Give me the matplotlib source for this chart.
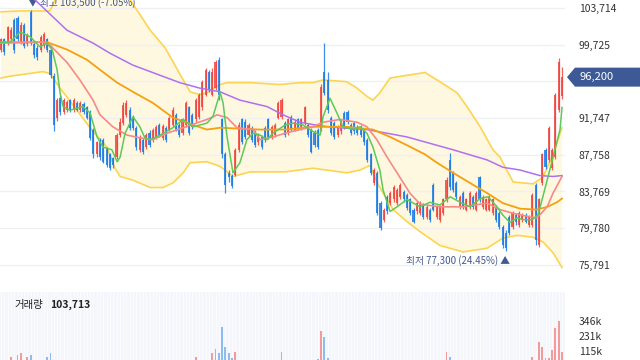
import numpy as np
import matplotlib
matplotlib.use("Agg")
import matplotlib.pyplot as plt
import matplotlib.transforms as mtransforms
from matplotlib.patches import Polygon

plt.rcParams['font.family'] = ['Noto Sans CJK KR', 'DejaVu Sans']

# 일봉 (단위: 천원)
opens = [99.2, 100.3, 99.9, 100.3, 102.4, 102.6, 100.0, 101.9, 99.8, 103.3,
         99.8, 99.4, 99.2, 99.6, 100.3, 99.2, 96.3, 91.8, 93.9, 92.4,
         92.6, 93.7, 92.6, 93.4, 92.6, 93.3, 92.9, 92.4, 90.5, 87.8,
         89.4, 89.4, 88.5, 87.8, 87.4, 87.5, 89.9, 91.2, 92.1, 92.6,
         91.8, 90.7, 88.3, 89.4, 88.6, 90.1, 89.4, 89.7, 91.0, 89.6,
         90.7, 90.5, 91.0, 92.1, 91.0, 90.1, 91.0, 92.9, 92.1, 91.6,
         91.9, 92.9, 94.3, 96.8, 94.3, 95.0, 98.1, 91.6, 87.8, 85.8,
         85.5, 85.6, 88.3, 91.6, 91.3, 89.9, 90.7, 90.1, 89.1, 89.7,
         90.7, 91.6, 89.7, 89.9, 91.8, 91.9, 91.2, 90.1, 91.9, 90.5,
         91.6, 90.7, 91.2, 91.0, 90.5, 90.1, 90.5, 90.5, 96.8, 95.9,
         91.8, 91.2, 89.9, 90.3, 92.3, 92.4, 91.0, 91.2, 90.8, 90.8,
         90.5, 89.4, 87.8, 84.7, 85.8, 82.5, 80.7, 83.2, 82.5, 82.9,
         82.5, 83.2, 83.7, 83.4, 82.9, 81.8, 81.6, 81.4, 82.3, 81.0,
         81.8, 84.5, 81.0, 80.7, 81.4, 82.9, 87.2, 85.8, 84.7, 82.1,
         83.6, 81.8, 82.1, 83.2, 81.8, 85.3, 82.1, 81.8, 81.8, 81.4,
         82.1, 81.4, 79.9, 79.3, 81.0, 79.9, 81.2, 80.1, 80.7, 81.2,
         80.1, 80.1, 84.5, 77.9, 84.7, 88.3, 87.2, 86.3, 87.5, 92.6, 94.1]
closes = [100.3, 98.9, 101.6, 101.3, 99.2, 100.3, 101.9, 99.6, 100.8, 100.0,
          98.6, 98.4, 100.6, 100.9, 99.2, 96.4, 91.0, 93.7, 92.4, 93.7,
          93.5, 92.6, 93.7, 92.6, 93.4, 92.4, 91.8, 89.6, 87.8, 89.1,
          87.5, 87.0, 86.7, 86.3, 86.7, 89.9, 91.3, 93.2, 93.4, 90.7,
          90.7, 88.6, 89.7, 88.1, 89.9, 88.8, 90.5, 90.8, 89.9, 90.9,
          89.4, 91.8, 92.6, 90.5, 89.9, 91.6, 93.4, 90.1, 90.8, 93.7,
          94.3, 95.7, 97.0, 94.8, 96.8, 97.9, 94.3, 87.8, 84.5, 85.3,
          84.4, 88.3, 91.0, 89.2, 89.7, 91.0, 89.4, 88.8, 89.9, 88.6,
          89.4, 89.7, 90.8, 91.0, 93.4, 93.7, 89.9, 91.6, 90.5, 91.3,
          90.7, 91.6, 92.9, 89.9, 88.1, 88.8, 88.6, 95.1, 94.5, 92.6,
          90.1, 89.7, 90.8, 91.3, 90.8, 91.3, 90.1, 90.3, 90.1, 89.9,
          89.1, 87.2, 85.8, 86.1, 81.4, 79.8, 81.8, 81.6, 83.6, 84.3,
          83.9, 84.5, 82.9, 82.0, 81.4, 80.5, 82.5, 82.5, 81.0, 82.1,
          80.7, 81.8, 82.1, 82.1, 82.9, 85.0, 84.3, 83.9, 83.2, 83.2,
          82.1, 82.9, 83.6, 82.1, 83.6, 82.9, 83.2, 82.9, 83.2, 82.9,
          80.7, 79.9, 77.9, 77.6, 79.3, 81.4, 80.4, 81.4, 81.2, 80.5,
          81.0, 83.4, 78.5, 82.9, 87.8, 86.4, 90.7, 88.3, 94.3, 97.9, 96.2]
highs = [100.5, 100.5, 101.8, 101.6, 102.6, 102.8, 102.2, 102.1, 101.0, 103.5,
         100.0, 99.7, 100.8, 101.1, 100.5, 99.7, 96.6, 93.9, 94.3, 93.9,
         93.7, 93.8, 93.9, 93.6, 93.6, 93.5, 93.1, 92.6, 90.7, 89.3,
         89.6, 89.6, 88.6, 88.0, 87.5, 90.1, 91.8, 93.5, 93.7, 92.9,
         92.1, 90.9, 89.9, 89.6, 90.1, 90.4, 90.7, 91.0, 91.2, 91.1,
         90.9, 92.0, 92.9, 92.3, 91.2, 91.8, 93.6, 93.1, 92.3, 93.9,
         94.5, 95.9, 97.2, 97.0, 97.2, 98.1, 98.4, 91.8, 88.1, 86.1,
         85.7, 88.5, 91.3, 91.8, 91.6, 91.2, 90.9, 90.4, 90.1, 89.9,
         90.9, 91.8, 91.0, 91.2, 93.6, 93.9, 91.4, 91.8, 92.1, 91.6,
         91.8, 91.8, 93.1, 91.2, 90.7, 90.4, 90.7, 95.4, 99.9, 96.8,
         92.0, 91.4, 91.0, 91.6, 92.5, 92.6, 91.2, 91.4, 91.0, 91.0,
         90.7, 89.6, 88.0, 86.3, 86.0, 82.7, 82.0, 83.4, 83.8, 84.5,
         84.2, 84.7, 83.9, 83.6, 83.1, 82.0, 82.7, 82.7, 82.5, 82.3,
         82.0, 84.7, 82.3, 82.3, 83.1, 85.3, 88.0, 86.0, 84.9, 83.4,
         83.8, 83.1, 83.8, 83.4, 83.8, 85.5, 83.4, 83.1, 83.4, 83.1,
         82.3, 81.7, 80.1, 79.6, 81.2, 81.7, 81.4, 81.7, 81.4, 81.4,
         81.2, 83.6, 84.7, 83.1, 88.0, 88.5, 90.9, 88.5, 94.5, 98.3, 97.3]
lows = [98.9, 98.6, 99.7, 100.0, 98.8, 100.0, 99.8, 99.4, 99.6, 99.7,
        98.3, 98.1, 98.9, 99.4, 98.9, 96.1, 90.3, 91.4, 92.1, 92.2,
        92.4, 92.4, 92.4, 92.5, 92.4, 92.2, 91.6, 89.4, 87.4, 87.5,
        87.2, 86.9, 86.4, 86.1, 86.3, 87.3, 89.7, 91.0, 91.9, 90.5,
        90.5, 88.3, 88.1, 87.8, 88.4, 88.6, 89.2, 89.5, 89.7, 89.4,
        89.2, 90.3, 90.8, 90.3, 89.7, 89.9, 90.8, 89.9, 90.6, 91.3,
        91.7, 92.6, 94.1, 94.6, 94.1, 94.8, 93.7, 87.4, 83.6, 84.8,
        84.2, 85.4, 88.1, 88.9, 89.5, 89.7, 89.2, 88.6, 88.8, 88.4,
        89.2, 89.5, 89.5, 89.7, 91.6, 91.7, 89.7, 89.9, 90.3, 90.3,
        90.5, 90.5, 91.0, 89.7, 87.9, 88.6, 88.4, 90.3, 94.3, 92.3,
        89.9, 89.5, 89.7, 90.0, 90.6, 91.1, 89.9, 90.0, 89.9, 89.7,
        88.8, 87.0, 85.6, 84.5, 81.2, 79.6, 80.5, 81.3, 82.3, 82.6,
        82.3, 83.0, 82.6, 81.8, 81.2, 80.3, 81.3, 81.2, 80.8, 80.8,
        80.5, 81.6, 80.8, 80.5, 81.2, 82.6, 83.9, 83.7, 83.0, 81.9,
        81.9, 81.6, 81.9, 81.9, 81.6, 82.6, 81.9, 81.6, 81.6, 81.2,
        80.5, 79.7, 77.6, 77.3, 79.0, 79.7, 80.1, 79.9, 80.5, 80.3,
        79.9, 79.9, 77.9, 77.7, 84.5, 86.2, 87.0, 86.1, 87.3, 92.4, 93.8]
# 거래량 (단위: 천주)
volumes = [32, 28, 35, 69, 40, 84, 100, 30, 69, 84,
           38, 30, 26, 33, 69, 100, 42, 36, 28, 25,
           22, 24, 20, 18, 21, 23, 27, 40, 38, 26,
           30, 33, 28, 31, 24, 36, 34, 40, 28, 25,
           22, 30, 26, 28, 24, 22, 25, 21, 23, 24,
           20, 26, 30, 24, 22, 28, 35, 30, 26, 69,
           40, 44, 45, 38, 100, 130, 100, 299, 146, 100,
           60, 107, 42, 35, 30, 28, 26, 30, 24, 27,
           25, 30, 28, 26, 40, 107, 35, 30, 28, 25,
           24, 26, 33, 28, 35, 30, 55, 268, 222, 60,
           40, 32, 26, 24, 30, 28, 25, 24, 22, 26,
           30, 38, 42, 35, 45, 40, 30, 28, 26, 25,
           24, 26, 22, 25, 28, 30, 24, 22, 21, 23,
           25, 38, 22, 24, 30, 107, 69, 35, 28, 24,
           22, 21, 25, 23, 26, 35, 24, 22, 25, 23,
           28, 30, 40, 45, 35, 30, 26, 24, 22, 25,
           28, 69, 45, 184, 146, 61, 60, 123, 291, 345, 103.713]

# 볼린저 밴드 / 이동평균 (봉 인덱스, 가격)
bb_up_x = [0, 5.8, 14.8, 16.4, 20.9, 27, 33, 37.6, 39.1, 42.1, 45.2, 49.7, 52.7, 55.2, 57.3,
           60.3, 62.4, 66.4, 68.5, 75.5, 84.5, 90.6, 94.5, 97.6, 104.8, 107.9, 110.9, 112.7,
           114.8, 117.9, 123, 128.5, 133, 138.2, 141.2, 145.2, 149.1, 151.2, 155.2, 161.2,
           164.2, 167.3, 170]
bb_up_y = [103.3, 103.4, 103.4, 104.6, 105.5, 106.2, 105.9, 105.1, 104.6, 103.0, 101.3, 99.4,
           97.5, 95.9, 94.6, 94.3, 94.5, 95.4, 95.6, 95.6, 95.4, 95.6, 95.6, 95.9, 95.7, 95.0,
           94.1, 93.7, 94.5, 96.1, 96.4, 96.7, 95.7, 94.5, 93.0, 90.8, 88.3, 87.5, 84.8, 84.6,
           85.3, 87.8, 90.7]
bb_lo_x = [0, 2.7, 12.7, 14.8, 17.9, 23, 27, 32.1, 34.5, 36.1, 40, 45.2, 49.1, 52.1, 55.2,
           57.3, 62.4, 66.4, 68.5, 70.3, 75.5, 86.1, 94.5, 104.8, 108.8, 111.8, 114.3,
           118.8, 123, 127, 133, 140, 147.3, 152.1, 156.4, 161.2, 164.2, 167.3, 170]
bb_lo_y = [96.1, 96.3, 96.8, 96.6, 95.0, 92.6, 90.7, 88.6, 86.3, 85.4, 85.0, 84.2, 84.2, 84.7,
           85.8, 86.9, 87.0, 86.5, 85.9, 85.4, 85.9, 85.9, 86.3, 85.8, 86.1, 86.6, 84.5,
           81.8, 80.5, 79.4, 77.9, 77.2, 77.6, 78.7, 79.0, 78.8, 78.3, 77.1, 75.5]
ma120_x = [4, 10.3, 20, 27.9, 33, 40, 48.2, 54.2, 60.3, 66.4, 72.4, 80.6, 85.5, 90.6, 96.7,
           102.7, 110.9, 117, 123, 127, 137, 147.3, 152.1, 157.3, 163.3, 167.3, 170]
ma120_y = [105.7, 104.6, 101.3, 99.9, 98.8, 97.5, 96.4, 95.6, 95.0, 94.6, 93.7, 93.0, 92.1,
           91.3, 90.9, 90.7, 90.5, 90.1, 89.7, 89.3, 88.3, 87.2, 86.4, 86.1, 85.5, 85.4, 85.5]
ma60_x = [0, 14, 20, 26, 30, 35.2, 40, 46, 52.1, 58.2, 62.4, 66.4, 72.4, 78.5, 86.1, 94.5,
          104.8, 112.7, 117.9, 123, 128.5, 132.1, 137, 142.1, 147.3, 152.1, 157.3, 162.4,
          165.5, 168.5, 170]
ma60_y = [100.0, 100.0, 99.2, 98.1, 97.0, 95.6, 94.6, 93.4, 91.8, 91.0, 90.5, 90.7, 90.6,
          90.5, 90.5, 90.8, 90.8, 90.5, 89.7, 88.8, 87.8, 86.9, 85.8, 84.7, 83.6, 82.5, 81.9,
          81.8, 82.1, 82.6, 83.0]
ma20_x = [0, 12.7, 14.8, 20, 23.9, 27.9, 30, 33.9, 38.2, 42.1, 46, 50.3, 55.2, 62.4, 65.5,
          68.5, 71.5, 76.4, 78.5, 82.4, 86.1, 90.6, 94.5, 97.6, 102.7, 107.9, 110.9, 113.9,
          117, 120, 123.9, 127, 133, 140, 147.3, 151.2, 155.2, 160.3, 162.4, 165.5, 167.3, 170]
ma20_y = [99.9, 100.0, 99.7, 97.8, 95.9, 93.7, 92.1, 90.8, 89.9, 89.6, 89.4, 90.1, 90.7,
          91.6, 92.1, 91.8, 90.7, 90.5, 89.4, 89.7, 90.1, 90.5, 90.8, 91.3, 91.6, 91.3, 90.8,
          89.4, 87.5, 85.8, 83.6, 82.4, 82.1, 82.1, 82.5, 81.8, 81.4, 81.0, 80.9, 82.1, 83.6,
          85.4]
ma5_x = [0, 2.7, 5.8, 8.8, 11.8, 13.9, 15.5, 17, 17.9, 18.8, 20.9, 24.8, 27, 29.1, 30.9,
         33.6, 35.2, 36.1, 37.6, 40, 42.1, 43.6, 45.2, 48.2, 52.1, 55.2, 58.2, 62.4, 64.2,
         66.4, 67.3, 68.5, 70.3, 72.4, 74.5, 76.4, 78.5, 80.6, 82.4, 86.1, 88.5, 91.5, 94.5,
         96.7, 97.6, 99.7, 101.8, 103.6, 106.7, 108.8, 110.9, 112.7, 114.8, 115.8, 117.9,
         120, 123, 127, 130, 133, 136.1, 139.1, 142.1, 145.2, 147.6, 150.3, 152.1, 154.2,
         156.4, 158.2, 160.9, 162.7, 164.2, 165.5, 167.3, 169.4, 170]
ma5_y = [100.0, 100.0, 101.1, 100.6, 99.5, 99.9, 99.2, 97.0, 94.5, 93.0, 92.6, 93.0, 92.3,
         89.7, 88.6, 88.3, 87.0, 87.5, 90.1, 91.9, 90.8, 89.6, 89.4, 89.9, 90.7, 91.6, 90.8,
         91.2, 91.9, 94.5, 93.4, 89.7, 85.8, 86.9, 89.4, 90.1, 89.9, 89.4, 90.1, 91.0, 91.2,
         91.0, 90.3, 89.9, 91.9, 93.9, 92.3, 90.8, 90.5, 90.8, 90.1, 88.6, 86.1, 83.9, 81.6,
         82.1, 82.9, 82.1, 82.6, 82.3, 83.2, 82.6, 82.1, 83.0, 83.2, 82.1, 81.2, 80.4, 80.9,
         80.7, 80.7, 81.2, 83.2, 85.0, 87.5, 90.5, 92.9]

price_ticks = [75.791, 79.780, 83.769, 87.758, 91.747, 95.736, 99.725, 103.714]
price_labels = ['75,791', '79,780', '83,769', '87,758', '91,747', '', '99,725', '103,714']
vol_ticks = [115, 231, 346]
vol_labels = ['115k', '231k', '346k']
last_price = 96.2

UP, DOWN = '#f0443f', '#1c7be6'
W, H = 640, 360

x = np.arange(len(closes))
o = np.array(opens)
c = np.array(closes)
up = c >= o
cols = np.where(up, UP, DOWN)

fig = plt.figure(figsize=(6.4, 3.6), dpi=100)
ax = fig.add_axes([0, 1 - 275 / H, 565 / W, 275 / H])
axv = fig.add_axes([0, 0, 565 / W, 68 / H])

xl = (-1 / 3.3, 564 / 3.3)

# 가격 영역
ax.fill(np.r_[bb_up_x, bb_lo_x[::-1]], np.r_[bb_up_y, bb_lo_y[::-1]],
        color='#fff8e1', lw=0, zorder=0)
ax.plot(bb_up_x, bb_up_y, color='#fdd44f', lw=1.2, zorder=2)
ax.plot(bb_lo_x, bb_lo_y, color='#fdd44f', lw=1.2, zorder=2)

ax.vlines(x, lows, highs, colors=cols, lw=0.9, alpha=0.85, zorder=3)
ax.bar(x, c - o, bottom=o, width=0.62, color=cols, alpha=0.85, zorder=3)

ax.plot(ma120_x, ma120_y, color='#b06ff0', lw=1.1, zorder=4)
ax.plot(ma60_x, ma60_y, color='#f5a00f', lw=1.3, zorder=4)
ax.plot(ma20_x, ma20_y, color='#f58a86', lw=1.2, zorder=4)
ax.plot(ma5_x, ma5_y, color='#5cc95a', lw=1.1, zorder=4)

ax.set_xlim(*xl)
ax.set_ylim(74.69, 104.586)
ax.set_yticks(price_ticks)
ax.set_yticklabels(price_labels)
ax.yaxis.tick_right()
ax.tick_params(axis='y', length=0, pad=10, labelsize=7.5, labelcolor='#333333')
ax.set_xticks([])
ax.grid(axis='y', color='#eef0f4', lw=1, zorder=0)
ax.set_axisbelow(True)
for s in ax.spines.values():
    s.set_visible(False)

ihi = int(np.argmax(highs))
ilo = int(np.argmin(lows))
ax.annotate('▼ 최고 103,500 (-7.05%)', xy=(ihi, highs[ihi]), xytext=(-2, 5.5),
            textcoords='offset points', ha='left', va='center', fontsize=7,
            color='#44598f', annotation_clip=False)
ax.annotate('최저 77,300 (24.45%) ▲', xy=(ilo, lows[ilo]), xytext=(3, -7),
            textcoords='offset points', ha='right', va='center', fontsize=7,
            color='#44598f', annotation_clip=False)

# 거래량 영역
vcols = np.where(up, '#f39a9a', '#8dbcf0')
axv.set_facecolor('#f4f6fb')
axv.vlines(x, 0, 700, colors='white', lw=0.5, alpha=0.8, zorder=1)
axv.bar(x, volumes, width=0.55, color=vcols, zorder=2)
axv.set_xlim(*xl)
axv.set_ylim(46, 567)
axv.set_yticks(vol_ticks)
axv.set_yticklabels(vol_labels)
axv.yaxis.tick_right()
axv.tick_params(axis='y', length=0, pad=10, labelsize=7.5, labelcolor='#333333')
axv.set_xticks([])
for s in axv.spines.values():
    s.set_visible(False)

fig.text(14 / W, 1 - 305 / H, '거래량', fontsize=7.5, color='#222222', va='center')
fig.text(50 / W, 1 - 305 / H, '103,713', fontsize=7.5, color='#222222', va='center',
         fontweight='bold')

# 현재가 라벨
fig.canvas.draw()
yd = ax.transData.transform((0, last_price))[1]
ident = mtransforms.IdentityTransform()
fig.add_artist(Polygon([(567, yd), (575, yd + 9.5), (645, yd + 9.5), (645, yd - 9.5),
                        (575, yd - 9.5)], closed=True, fc='#3d5a96', ec='none',
                       transform=ident))
fig.text(579, yd, '96,200', transform=ident, fontsize=8, color='white', va='center')

fig.savefig('out.png', dpi=100)
